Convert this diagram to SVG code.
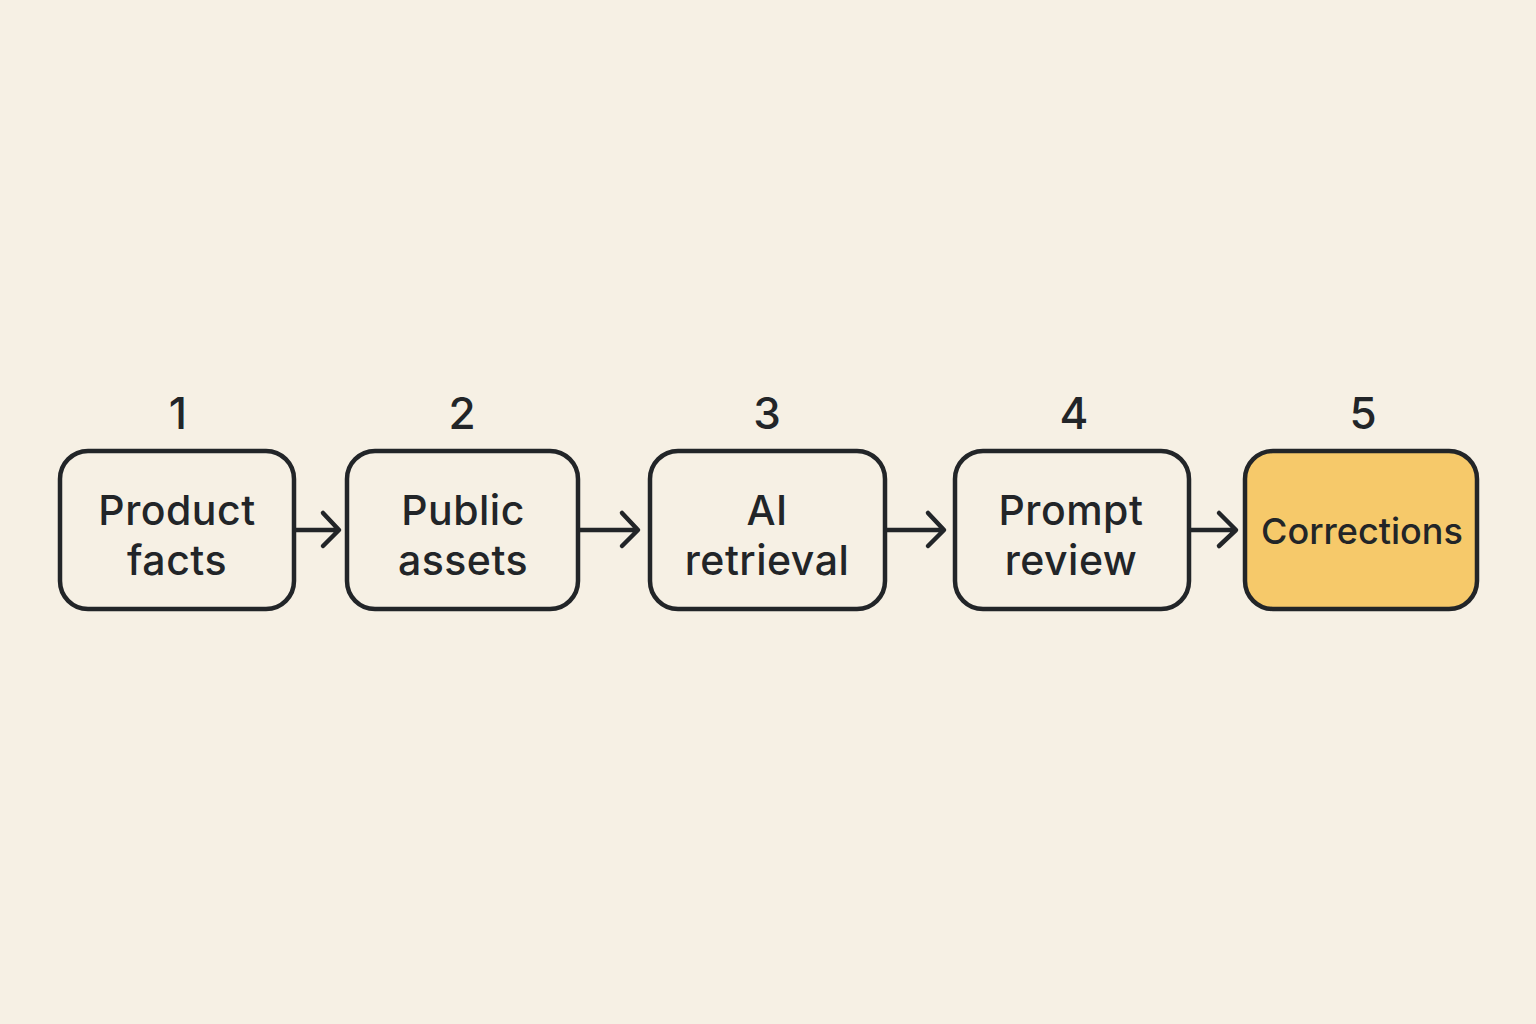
<svg xmlns="http://www.w3.org/2000/svg" width="1536" height="1024" viewBox="0 0 1536 1024">
<defs>
<style>
.box{fill:none;stroke:#222528;stroke-width:4.5}
.hl{fill:#F6C96A;stroke:#222528;stroke-width:4.5}
.lbl{font-family:Inter,"Noto Sans","Liberation Sans",sans-serif;font-size:41px;fill:#222528;text-anchor:middle;font-weight:500;letter-spacing:0.5px}
.num{font-family:Inter,"Noto Sans","Liberation Sans",sans-serif;font-size:44px;fill:#222528;text-anchor:middle;font-weight:500}
.con{fill:none;stroke:#222528;stroke-width:4.5;stroke-linecap:round;stroke-linejoin:round}
</style>
</defs>
<rect width="1536" height="1024" fill="#F6F0E4"/>
<g id="node1">
<text class="num" x="178" y="429">1</text>
<rect class="box" x="60" y="451" width="234" height="158" rx="28"/>
<text class="lbl" x="177" y="525">Product</text>
<text class="lbl" x="177" y="575">facts</text>
</g>
<g id="node2">
<text class="num" x="462" y="429">2</text>
<rect class="box" x="347" y="451" width="231" height="158" rx="28"/>
<text class="lbl" x="463" y="525">Public</text>
<text class="lbl" x="463" y="575">assets</text>
</g>
<g id="node3">
<text class="num" x="767" y="429">3</text>
<rect class="box" x="650" y="451" width="235" height="158" rx="28"/>
<text class="lbl" x="767" y="525">AI</text>
<text class="lbl" x="767" y="575">retrieval</text>
</g>
<g id="node4">
<text class="num" x="1074" y="429">4</text>
<rect class="box" x="955" y="451" width="234" height="158" rx="28"/>
<text class="lbl" x="1071" y="525">Prompt</text>
<text class="lbl" x="1071" y="575">review</text>
</g>
<g id="node5">
<text class="num" x="1363" y="429">5</text>
<rect class="hl" x="1245" y="451" width="232" height="158" rx="28"/>
<text class="lbl" x="1362" y="544" style="font-size:36px;letter-spacing:0">Corrections</text>
</g>
<g id="connectors">
<path class="con" d="M296 530H338M323 513L339 530L323 546"/>
<path class="con" d="M580 530H637M622 513L638 530L622 546"/>
<path class="con" d="M887 530H943M928 513L944 530L928 546"/>
<path class="con" d="M1191 530H1235M1219 513L1236 530L1219 546"/>
</g>
</svg>
